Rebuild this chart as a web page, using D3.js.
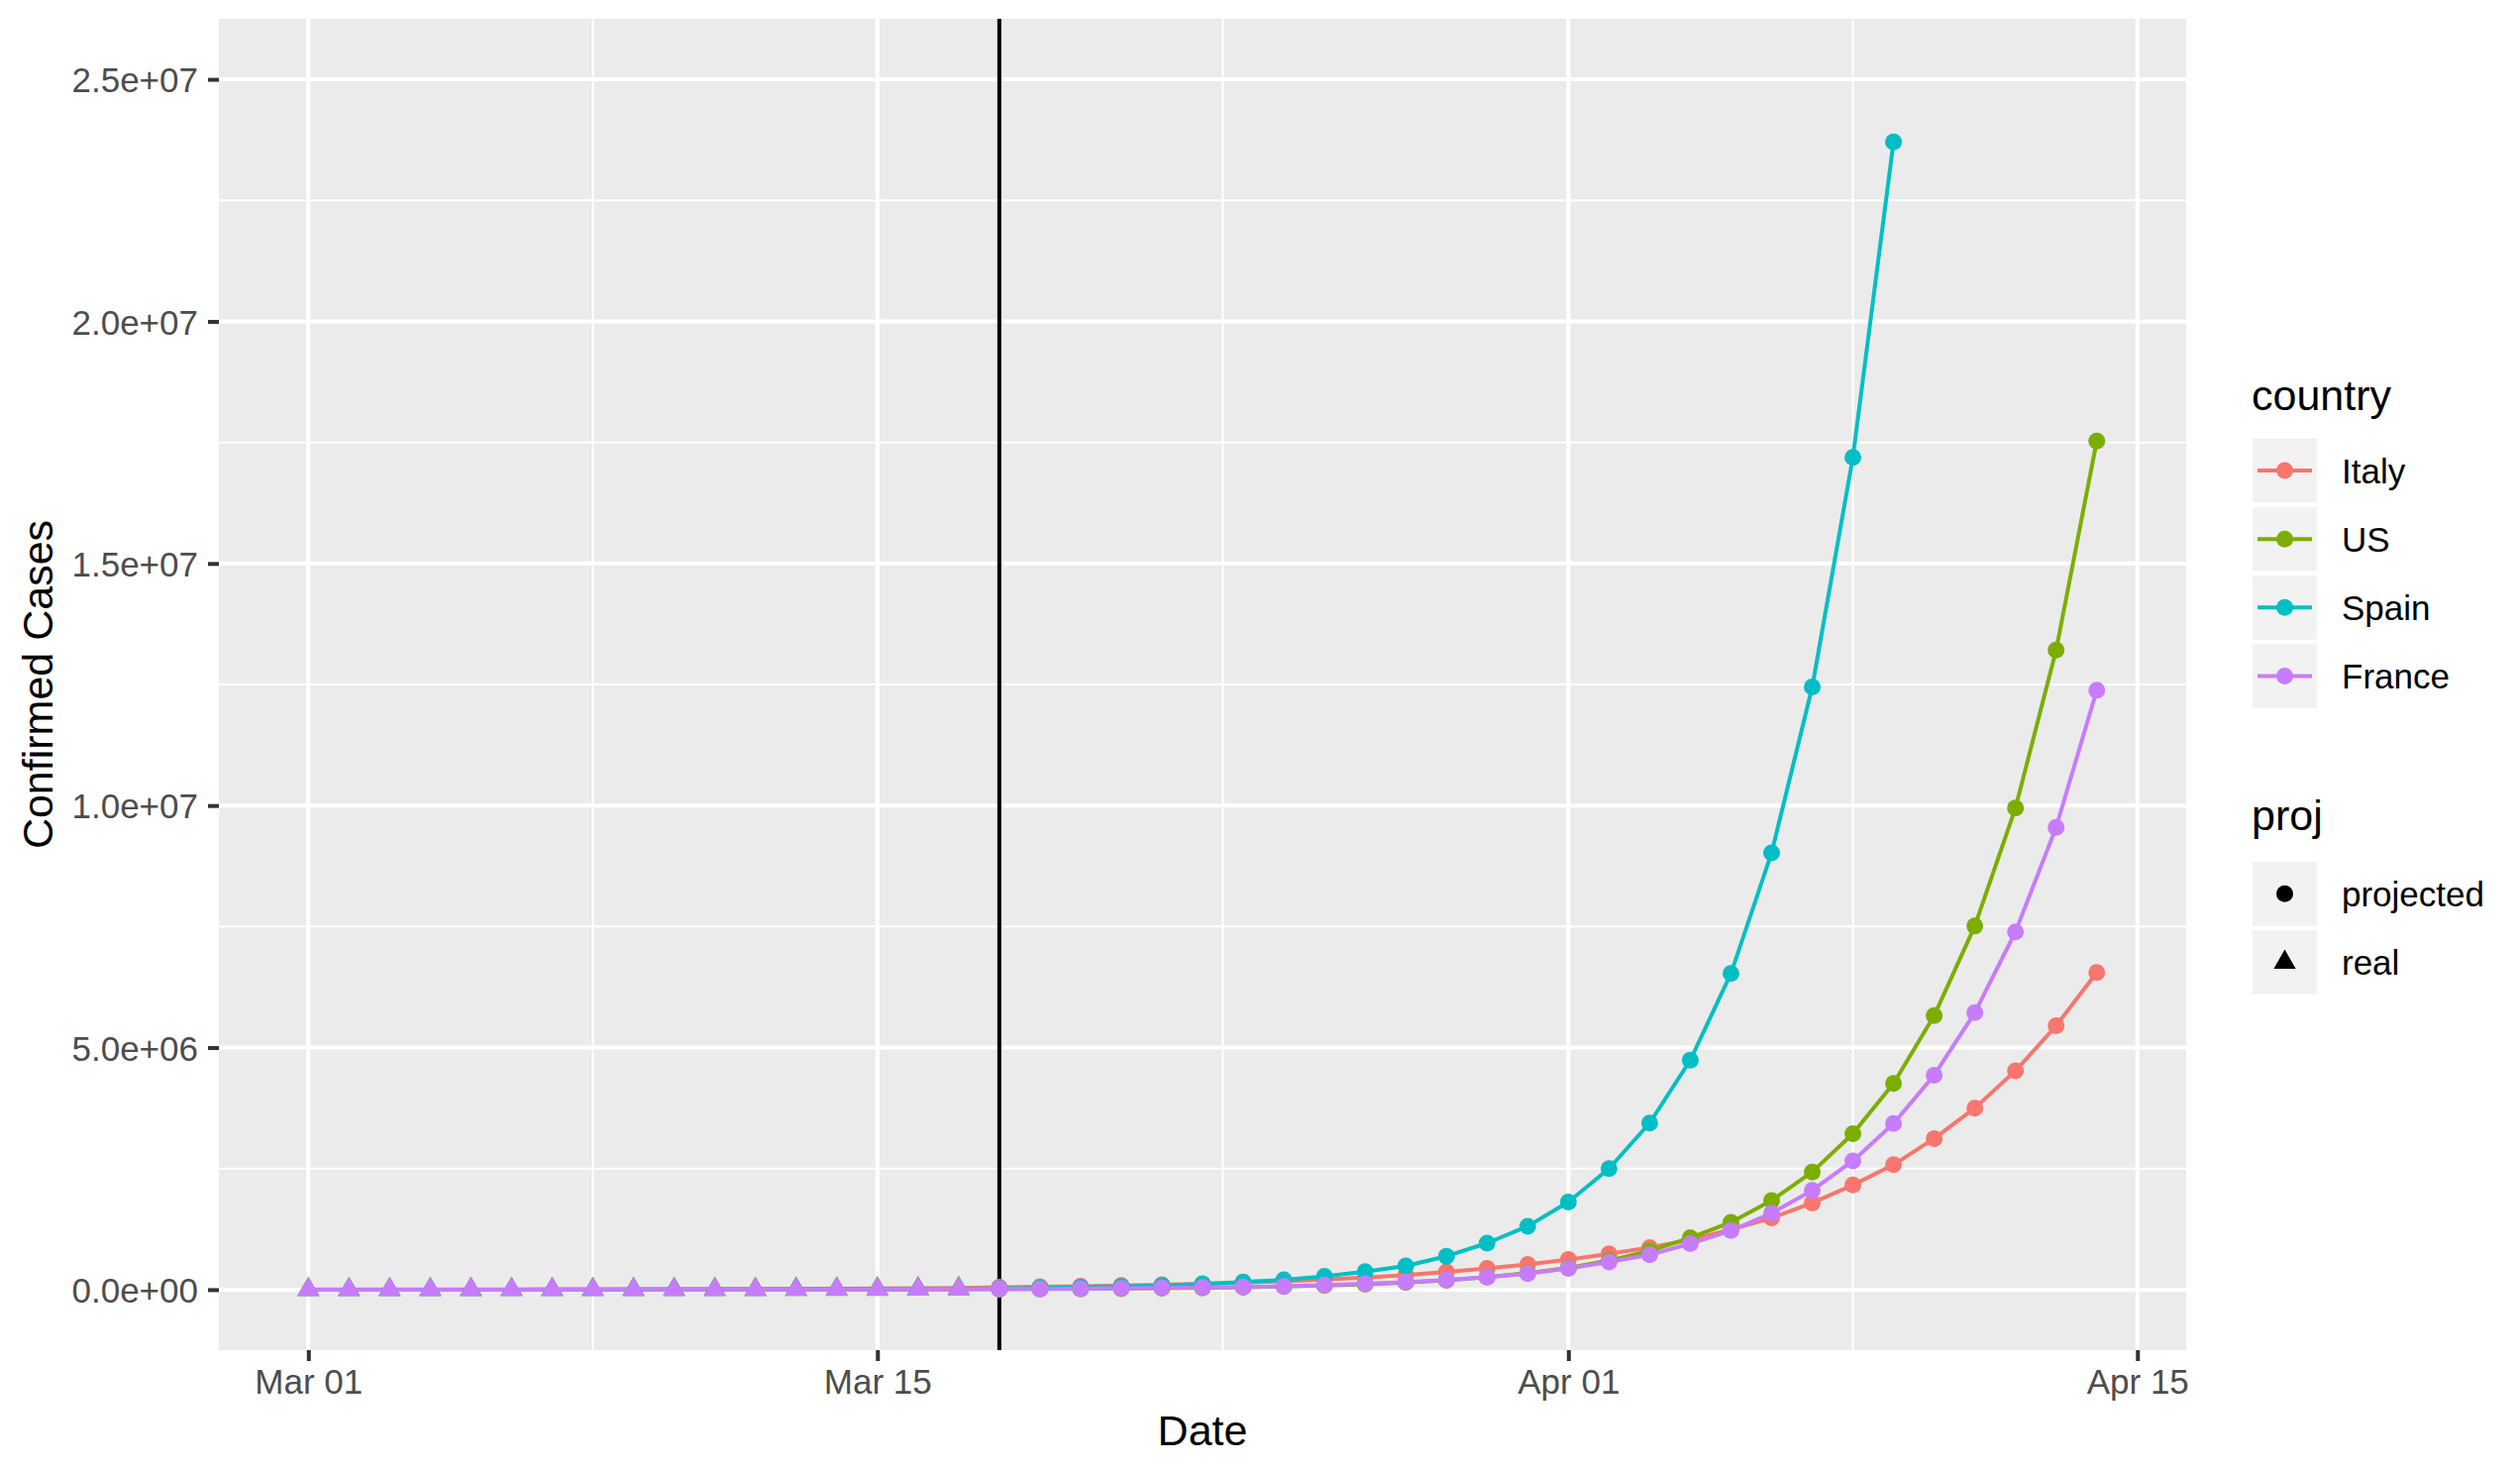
<!DOCTYPE html>
<html>
<head>
<meta charset="utf-8">
<script src="https://cdn.jsdelivr.net/npm/d3@7"></script>
<style>
  html, body { margin: 0; padding: 0; background: #ffffff; }
  svg { display: block; }
  text { font-family: "Liberation Sans", Arial, Helvetica, sans-serif; }
</style>
</head>
<body>
<svg id="chart" width="2544" height="1484"></svg>
<script>
// ---------------- DATA ----------------
const countries = ["Italy", "US", "Spain", "France"];
const colors = ["#F8766D", "#7CAE00", "#00BFC4", "#C77CFF"];
const projLevels = ["projected", "real"];

// real observations, Mar 01 .. Mar 17 (17 days)
const realStart = "2020-03-01";
const realItaly  = [1694, 2036, 2502, 3089, 3858, 4636, 5883, 7375, 9172, 10149, 12462, 12462, 17660, 21157, 24747, 27980, 31506];
const realUS     = [32, 55, 74, 107, 184, 237, 403, 519, 594, 782, 1147, 1586, 2219, 2978, 3212, 4679, 6512];
const realSpain  = [84, 120, 165, 222, 259, 400, 500, 673, 1073, 1695, 2277, 2277, 5232, 6391, 7798, 9942, 11748];
const realFrance = [130, 191, 204, 288, 380, 656, 957, 1134, 1217, 1794, 2293, 2293, 3681, 4496, 4532, 6683, 7715];

// projected values starting Mar 18
const projStart = "2020-03-18";
const projItaly  = [48000, 58000, 70000, 84000, 100000, 120000, 145000, 174000, 210000, 250000, 300000, 365000, 440000, 520000,
                    620000, 740000, 870000, 1030000, 1240000, 1480000, 1790000, 2160000, 2580000, 3120000, 3750000, 4520000, 5450000, 6550000];
const projUS     = [8000, 11000, 15000, 20000, 27000, 35000, 47000, 63000, 83000, 110000, 147000, 195000, 260000, 340000,
                    450000, 600000, 800000, 1070000, 1390000, 1840000, 2430000, 3220000, 4260000, 5660000, 7510000, 9950000, 13210000, 17530000];
const projSpain  = [25000, 35000, 48000, 65000, 85000, 115000, 155000, 205000, 275000, 370000, 490000, 690000, 960000, 1310000,
                    1810000, 2500000, 3440000, 4740000, 6530000, 9020000, 12450000, 17190000, 23710000];
const projFrance = [12000, 15000, 20000, 26000, 33000, 43000, 56000, 72000, 94000, 121000, 157000, 200000, 260000, 330000,
                    440000, 570000, 720000, 950000, 1220000, 1580000, 2050000, 2660000, 3430000, 4430000, 5720000, 7390000, 9550000, 12380000];

const cutoffDate = "2020-03-18";
const yTicks = [0, 5e6, 1e7, 1.5e7, 2e7, 2.5e7];
const yMinor = [2.5e6, 7.5e6, 1.25e7, 1.75e7, 2.25e7];
const xTicks = ["2020-03-01", "2020-03-15", "2020-04-01", "2020-04-15"];
const xMinor = ["2020-03-08", "2020-03-23T12:00:00Z", "2020-04-08"];
const xTitle = "Date";
const yTitle = "Confirmed Cases";
const legendTitle1 = "country";
const legendTitle2 = "proj";

// ---------------- BUILD ----------------
const parse = s => new Date(s.length === 10 ? s + "T00:00:00Z" : s);
const DAY = 86400000;
const realSeries = [realItaly, realUS, realSpain, realFrance];
const projSeries = [projItaly, projUS, projSpain, projFrance];

const series = countries.map((c, i) => {
  const pts = [];
  realSeries[i].forEach((v, k) => pts.push({ date: new Date(parse(realStart).getTime() + k * DAY), value: v, proj: "real" }));
  projSeries[i].forEach((v, k) => pts.push({ date: new Date(parse(projStart).getTime() + k * DAY), value: v, proj: "projected" }));
  return { country: c, color: colors[i], points: pts };
});

const svg = d3.select("#chart");
const P = { left: 221, right: 2207, top: 19, bottom: 1363 };

const allDates = series.flatMap(s => s.points.map(p => p.date.getTime()));
const dMin = d3.min(allDates), dMax = d3.max(allDates);
const dPad = (dMax - dMin) * 0.05;
const x = d3.scaleUtc().domain([new Date(dMin - dPad), new Date(dMax + dPad)]).range([P.left, P.right]);
const y = d3.scaleLinear().domain([-1.25e6, 2.625e7]).range([P.bottom, P.top]);

// panel
svg.append("rect").attr("x", P.left).attr("y", P.top)
  .attr("width", P.right - P.left).attr("height", P.bottom - P.top).attr("fill", "#EBEBEB");

const grid = svg.append("g");
yMinor.forEach(v => grid.append("line").attr("x1", P.left).attr("x2", P.right)
  .attr("y1", y(v)).attr("y2", y(v)).attr("stroke", "#fff").attr("stroke-width", 2));
xMinor.forEach(d => grid.append("line").attr("y1", P.top).attr("y2", P.bottom)
  .attr("x1", x(parse(d))).attr("x2", x(parse(d))).attr("stroke", "#fff").attr("stroke-width", 2));
yTicks.forEach(v => grid.append("line").attr("x1", P.left).attr("x2", P.right)
  .attr("y1", y(v)).attr("y2", y(v)).attr("stroke", "#fff").attr("stroke-width", 4));
xTicks.forEach(d => grid.append("line").attr("y1", P.top).attr("y2", P.bottom)
  .attr("x1", x(parse(d))).attr("x2", x(parse(d))).attr("stroke", "#fff").attr("stroke-width", 4));

// vertical cutoff line
svg.append("line").attr("x1", x(parse(cutoffDate))).attr("x2", x(parse(cutoffDate)))
  .attr("y1", P.top).attr("y2", P.bottom).attr("stroke", "#000").attr("stroke-width", 4);

// lines
const line = d3.line().x(p => x(p.date)).y(p => y(p.value));
svg.append("g").selectAll("path").data(series).join("path")
  .attr("d", s => line(s.points)).attr("fill", "none")
  .attr("stroke", s => s.color).attr("stroke-width", 4).attr("stroke-linejoin", "round");

// points
const tri = d3.symbol().type(d3.symbolTriangle).size(215);
const R = 8.5;
series.forEach(s => {
  const g = svg.append("g");
  s.points.forEach(p => {
    if (p.proj === "real") {
      g.append("path").attr("d", tri()).attr("transform", `translate(${x(p.date)},${y(p.value)})`).attr("fill", s.color);
    } else {
      g.append("circle").attr("cx", x(p.date)).attr("cy", y(p.value)).attr("r", R).attr("fill", s.color);
    }
  });
});

// axes
const fmtY = v => {
  const s = d3.format(".1e")(v);
  return s.replace(/e([+-])(\d)$/, "e$10$2");
};
const yAxis = svg.append("g").attr("transform", `translate(${P.left},0)`)
  .call(d3.axisLeft(y).tickValues(yTicks).tickFormat(fmtY).tickSize(11).tickPadding(10));
const xAxis = svg.append("g").attr("transform", `translate(0,${P.bottom})`)
  .call(d3.axisBottom(x).tickValues(xTicks.map(parse)).tickFormat(d3.utcFormat("%b %d")).tickSize(11).tickPadding(8));
[yAxis, xAxis].forEach(a => {
  a.select(".domain").remove();
  a.selectAll(".tick line").attr("stroke", "#333333").attr("stroke-width", 4);
  a.selectAll(".tick text").attr("fill", "#4D4D4D").attr("font-size", 35)
    .attr("font-family", "'Liberation Sans', Arial, Helvetica, sans-serif");
});
yAxis.selectAll(".tick text").attr("dy", "0.36em");
xAxis.selectAll(".tick text").attr("dy", "0.71em");

// titles
svg.append("text").attr("x", (P.left + P.right) / 2).attr("y", 1459)
  .attr("text-anchor", "middle").attr("font-size", 43).attr("fill", "#000").text(xTitle);
svg.append("text").attr("transform", `translate(53,${(P.top + P.bottom) / 2}) rotate(-90)`)
  .attr("text-anchor", "middle").attr("font-size", 43).attr("fill", "#000").text(yTitle);

// legend: country
const L = svg.append("g");
const keyX = 2274, keyW = 65, keyH = 64.5, rowStep = 69.2;
L.append("text").attr("x", 2273).attr("y", 414).attr("font-size", 43).attr("fill", "#000").text(legendTitle1);
countries.forEach((c, i) => {
  const y0 = 442.7 + i * rowStep;
  const cy = y0 + keyH / 2;
  L.append("rect").attr("x", keyX).attr("y", y0).attr("width", keyW).attr("height", keyH).attr("fill", "#F2F2F2");
  L.append("line").attr("x1", keyX + 5).attr("x2", keyX + keyW - 5).attr("y1", cy).attr("y2", cy)
    .attr("stroke", colors[i]).attr("stroke-width", 4);
  L.append("circle").attr("cx", keyX + keyW / 2).attr("cy", cy).attr("r", R).attr("fill", colors[i]);
  L.append("text").attr("x", 2364).attr("y", cy + 12.6).attr("font-size", 35).attr("fill", "#000").text(c);
});

// legend: proj
L.append("text").attr("x", 2273).attr("y", 838).attr("font-size", 43).attr("fill", "#000").text(legendTitle2);
projLevels.forEach((pName, i) => {
  const y0 = 870 + i * rowStep;
  const cy = y0 + keyH / 2;
  L.append("rect").attr("x", keyX).attr("y", y0).attr("width", keyW).attr("height", keyH).attr("fill", "#F2F2F2");
  if (pName === "projected") {
    L.append("circle").attr("cx", keyX + keyW / 2).attr("cy", cy).attr("r", R).attr("fill", "#000");
  } else {
    L.append("path").attr("d", tri()).attr("transform", `translate(${keyX + keyW / 2},${cy})`).attr("fill", "#000");
  }
  L.append("text").attr("x", 2364).attr("y", cy + 12.6).attr("font-size", 35).attr("fill", "#000").text(pName);
});
</script>
</body>
</html>
